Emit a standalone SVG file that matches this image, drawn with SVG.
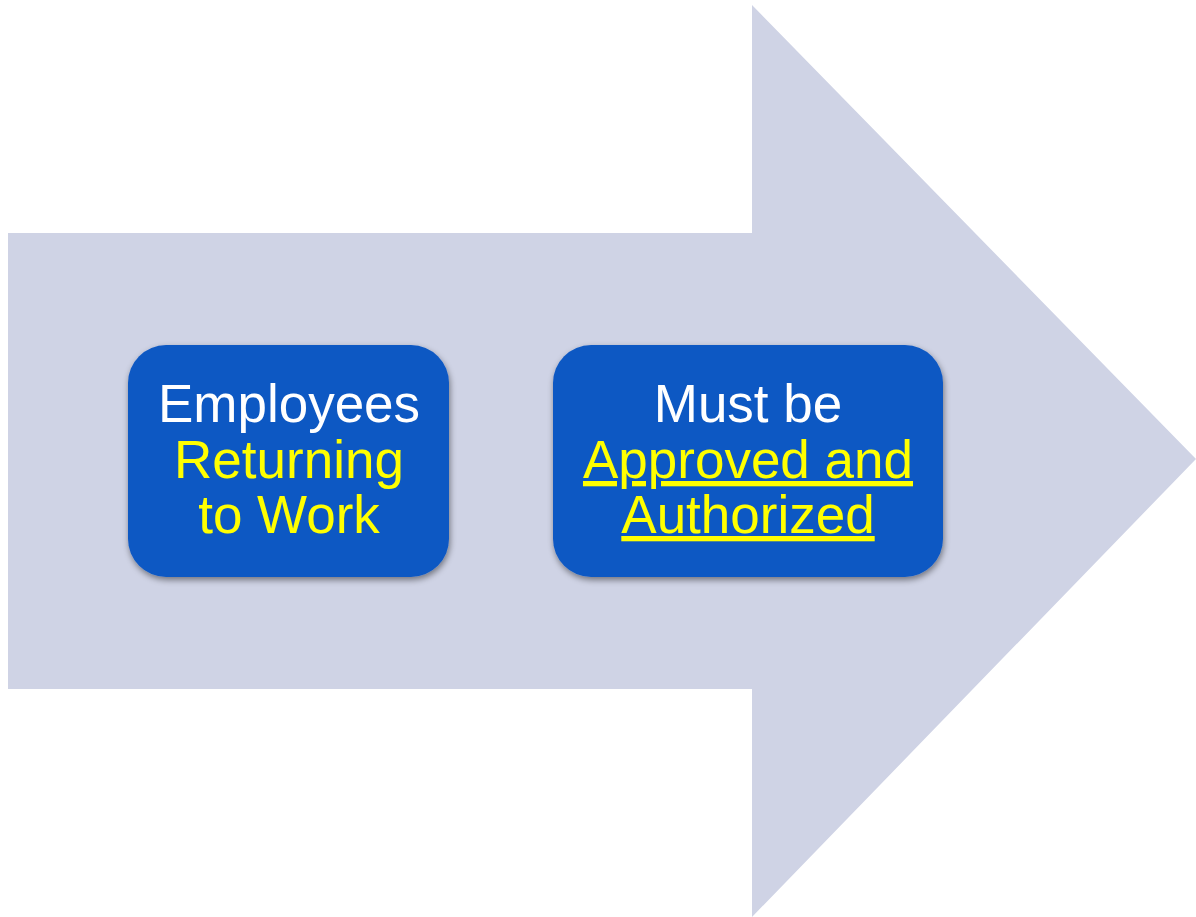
<svg xmlns="http://www.w3.org/2000/svg" width="1196" height="917" viewBox="0 0 1196 917">
<defs>
<style>
.box{fill:#1059C3;filter:url(#sh);}
.t{font-family:"Liberation Sans",Arial,sans-serif;font-size:53px;text-anchor:middle;}
.w{fill:#FFFFFF;}
.y{fill:#FFFF00;}
.u{text-decoration:underline;}
</style>
<filter id="sh" x="-10%" y="-10%" width="120%" height="130%">
<feDropShadow dx="1" dy="3" stdDeviation="3" flood-color="#000" flood-opacity="0.45"/>
</filter>
</defs>
<rect width="1196" height="917" fill="#FFFFFF"/>
<g id="arrow">
<polygon points="8,233 752,233 752,5 1196,459 752,917 752,689 8,689" fill="#CFD3E5"/>
</g>
<g id="node1">
<rect class="box" x="128" y="345" width="321" height="232" rx="38" ry="38"/>
<text class="t w" x="289" y="422">Employees</text>
<text class="t y" x="289" y="478">Returning</text>
<text class="t y" x="289" y="533">to Work</text>
</g>
<g id="node2">
<rect class="box" x="553" y="345" width="390" height="232" rx="38" ry="38"/>
<text class="t w" x="748" y="422">Must be</text>
<text class="t y u" x="748" y="478">Approved and</text>
<text class="t y u" x="748" y="533">Authorized</text>
</g>
<g id="connectors"></g>
</svg>
